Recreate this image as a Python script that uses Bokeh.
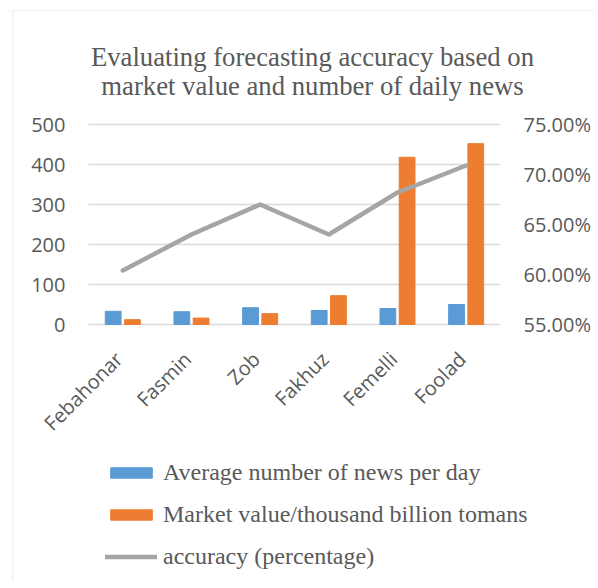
import math
from bokeh.plotting import figure
from bokeh.models import Range1d, Legend, LegendItem, ColumnDataSource, BoxAnnotation
from bokeh.core.properties import value
from bokeh.transform import dodge
from bokeh.embed import file_html
from bokeh.resources import INLINE

categories = ["Febahonar", "Fasmin", "Zob", "Fakhuz", "Femelli", "Foolad"]
news_per_day = [33, 32, 42, 35, 40, 50]
market_value = [12, 16, 27, 72, 418, 452]
accuracy = [0.604, 0.640, 0.670, 0.640, 0.682, 0.709]
left_ticks = [0, 100, 200, 300, 400, 500]
right_ticks = [0.55, 0.60, 0.65, 0.70, 0.75]
title_lines = ["Evaluating forecasting accuracy based on", "market value and number of daily news"]
legend_labels = ["Average number of news per day", "Market value/thousand billion tomans",
                 "accuracy (percentage)"]

# ---- layout constants (pixels) ----
W, H = 594, 582
TOP = 124              # y pixel of the top gridline
PLOT_H = 200           # height of the value area
CAT_W = 68.67          # width of one category slot
FIRST_CAT_PX = 122.3   # centre of first category from canvas left
TITLE_CX = 312         # horizontal centre of the title
TITLE_BASE = [56, 85]  # baselines of the two title lines
BORDER = (12, 10)      # chart-area border, left / top
GREY = "#595959"

n = len(categories)
xs = list(range(n))
l_px = PLOT_H / (left_ticks[-1] - left_ticks[0])
r_px = PLOT_H / (right_ticks[-1] - right_ticks[0])
x_start = -FIRST_CAT_PX / CAT_W
x_end = x_start + W / CAT_W
y_end = left_ticks[-1] + TOP / l_px
y_start = left_ticks[-1] - (H - TOP) / l_px
area_left, area_right = xs[0] - 0.5, xs[-1] + 0.5

def px_to_x(px):
    return x_start + px / CAT_W

def px_to_y(py):
    return left_ticks[-1] + (TOP - py) / l_px

src = ColumnDataSource(dict(x=xs, cat=categories, news=news_per_day, mkt=market_value,
                            acc=accuracy, base=[left_ticks[0]] * n))
grid_src = ColumnDataSource(dict(y=left_ticks, x0=[area_left] * len(left_ticks),
                                 x1=[area_right] * len(left_ticks),
                                 lab=[str(t) for t in left_ticks]))
rt_src = ColumnDataSource(dict(y=right_ticks, x=[area_right] * len(right_ticks),
                               lab=["%.2f%%" % (t * 100) for t in right_ticks]))
title_src = ColumnDataSource(dict(x=[px_to_x(TITLE_CX)] * 2,
                                  y=[px_to_y(b) for b in TITLE_BASE], t=title_lines))

p = figure(x_range=Range1d(x_start, x_end), y_range=Range1d(y_start, y_end),
           width=W, height=H, output_backend="svg", toolbar_location=None,
           min_border_left=0, min_border_right=0, min_border_top=0, min_border_bottom=0)
p.extra_y_ranges = {"acc": Range1d(right_ticks[-1] - (H - TOP) / r_px,
                                   right_ticks[-1] + TOP / r_px)}
p.outline_line_color = None
p.axis.visible = False
p.grid.visible = False

# chart-area border (only its top and left edges fall inside the picture)
p.add_layout(BoxAnnotation(left=px_to_x(BORDER[0]), top=px_to_y(BORDER[1]),
                           right=x_end + 5, bottom=y_start - 100,
                           fill_alpha=0, line_color="#d9d9d9", line_width=2))

# gridlines
p.segment(x0="x0", x1="x1", y0="y", y1="y", source=grid_src,
          line_color="#d9d9d9", line_width=1.5)

r1 = p.vbar(x=dodge("x", -0.14), top="news", width=0.23, source=src,
            fill_color="#5b9bd5", line_color="#5b9bd5")
r2 = p.vbar(x=dodge("x", 0.14), top="mkt", width=0.23, source=src,
            fill_color="#ed7d31", line_color="#ed7d31")
r3 = p.line(x="x", y="acc", source=src, y_range_name="acc", line_color="#a5a5a5",
            line_width=4.5, line_join="round", line_cap="round")

label_font = dict(text_font=value("Open Sans"), text_font_size="20px", text_color=GREY)
# left tick labels
p.text(x="x0", y="y", text="lab", source=grid_src, text_align="right",
       text_baseline="middle", x_offset=-23, **label_font)
# right tick labels
p.text(x="x", y="y", text="lab", source=rt_src, y_range_name="acc", text_align="left",
       text_baseline="middle", x_offset=23, **label_font)
# category labels
p.text(x="x", y="base", text="cat", source=src, angle=math.pi / 4,
       text_align="right", text_baseline="alphabetic", x_offset=-4, y_offset=31, **label_font)
# title
p.text(x="x", y="y", text="t", source=title_src, text_align="center",
       text_baseline="alphabetic", text_font=value("Liberation Serif"),
       text_font_size="26.7px", text_color=GREY)

legend = Legend(items=[LegendItem(label=lab, renderers=[r]) for lab, r in
                       zip(legend_labels, [r1, r2, r3])],
                location=(105, 12), orientation="vertical")
legend.padding = 0
legend.margin = 0
legend.border_line_color = None
legend.background_fill_alpha = 0
legend.glyph_width = 52
legend.glyph_height = 13
legend.label_height = 21
legend.spacing = 15
legend.label_standoff = 6
legend.label_text_font = "Liberation Serif"
legend.label_text_font_size = "24px"
legend.label_text_color = GREY
p.add_layout(legend, "center")

open("out.html", "w").write(file_html(p, INLINE))
